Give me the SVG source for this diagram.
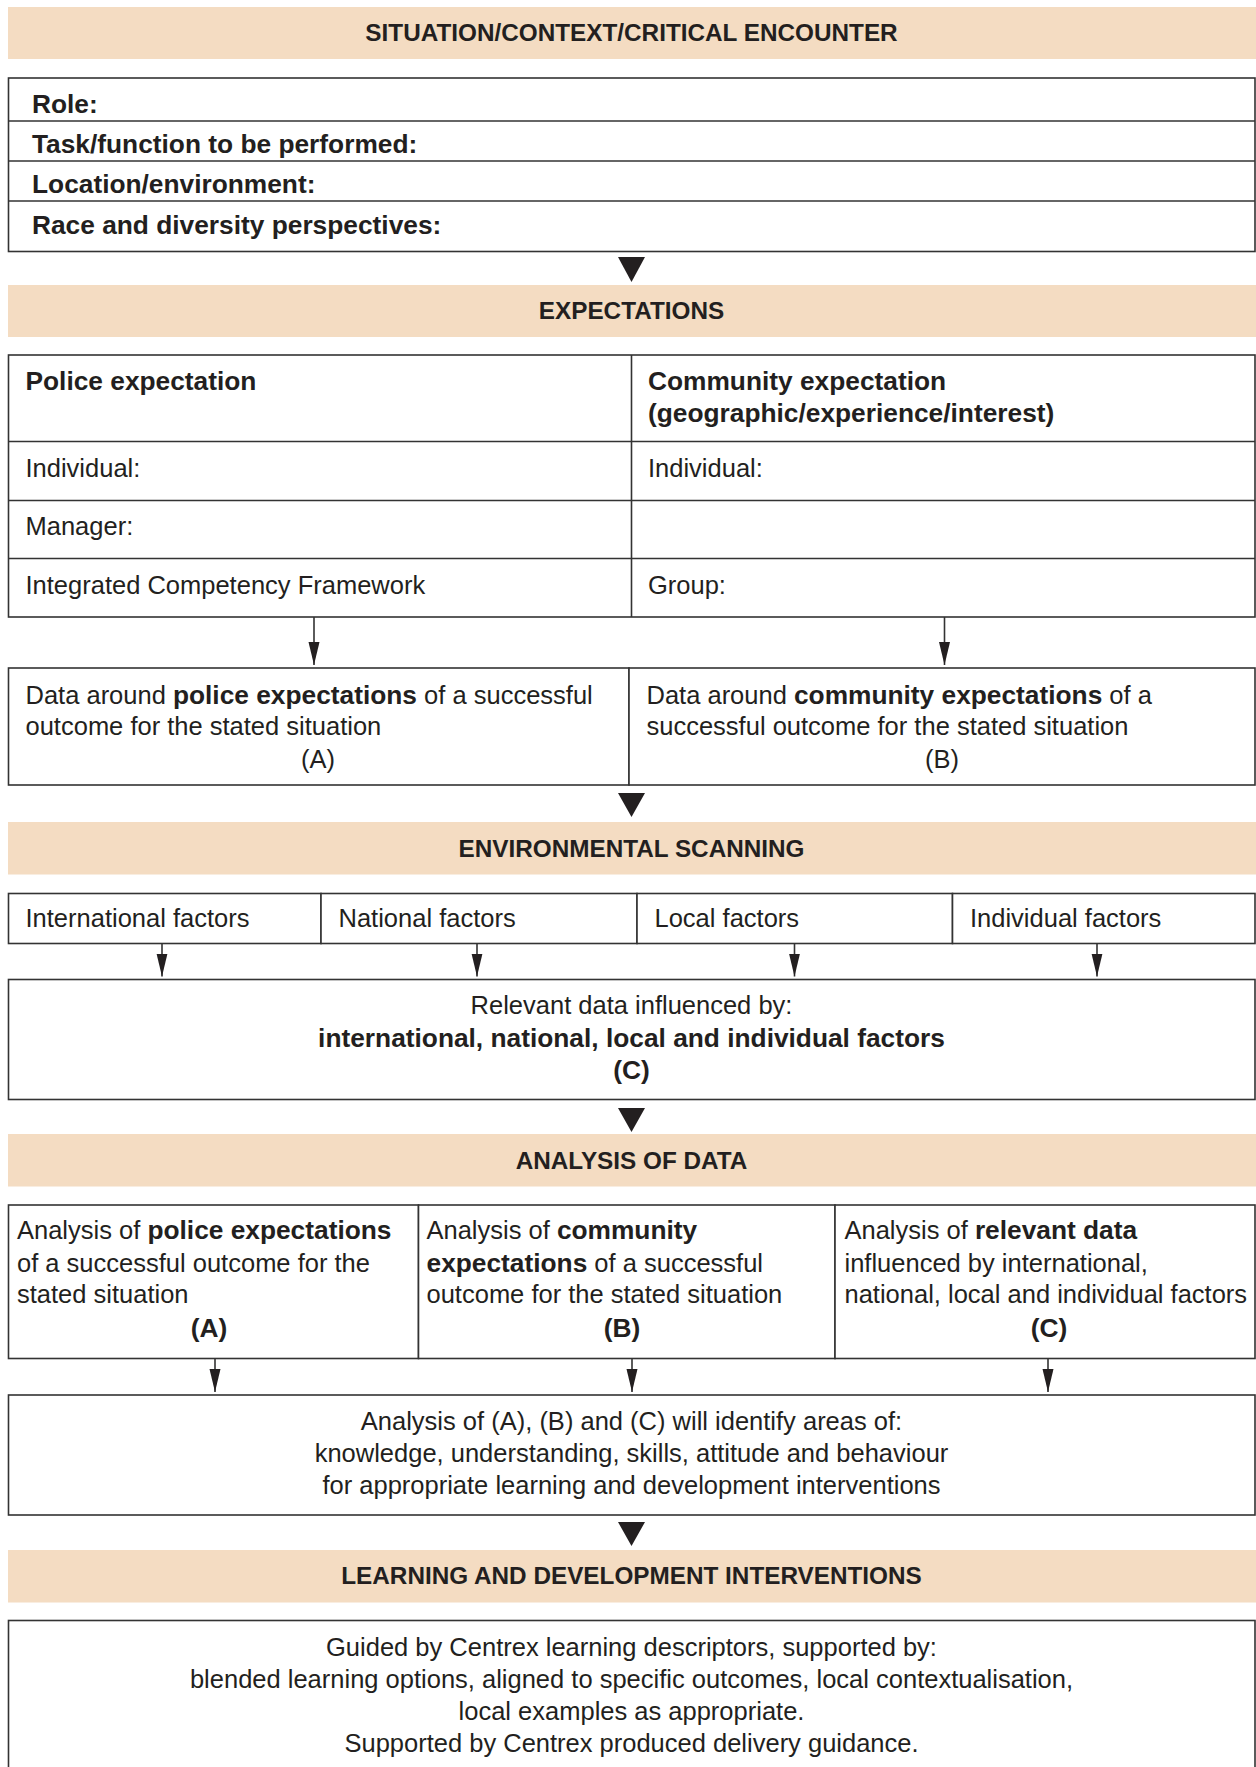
<svg xmlns="http://www.w3.org/2000/svg" width="1256" height="1767" viewBox="0 0 1256 1767">
<style>
.banner{fill:#F4DCC2;}
.box{fill:#fff;stroke:#333;stroke-width:1.6;}
.ln{stroke:#333;stroke-width:1.6;fill:none;}
.t{font-family:"Liberation Sans",Arial,sans-serif;font-size:25.5px;fill:#231F20;}
.b{font-weight:bold;font-size:26.3px;}
.c{text-anchor:middle;}
.h{font-family:"Liberation Sans",Arial,sans-serif;font-size:24.3px;font-weight:bold;fill:#231F20;text-anchor:middle;}
.tri{fill:#231F20;}
.arr{stroke:#333;stroke-width:1.6;fill:none;marker-end:url(#ah);}
</style>
<defs>
<marker id="ah" markerUnits="userSpaceOnUse" viewBox="0 -6 23 12" markerWidth="23" markerHeight="12" refX="23" refY="0" orient="auto">
<path d="M0,-5.5 L23,0 L0,5.5 Z" fill="#231F20"/>
</marker>
</defs>
<rect width="1256" height="1767" fill="#fff"/>

<g id="banner-situation">
<rect class="banner" x="8" y="7" width="1248" height="52"/>
<text class="h" x="631.5" y="41">SITUATION/CONTEXT/CRITICAL ENCOUNTER</text>
</g>

<g id="situation-table">
<rect class="box" x="8.5" y="78" width="1246.5" height="173.5"/>
<line class="ln" x1="8.5" y1="121" x2="1255" y2="121"/>
<line class="ln" x1="8.5" y1="161" x2="1255" y2="161"/>
<line class="ln" x1="8.5" y1="201" x2="1255" y2="201"/>
<text class="t b" x="32" y="112.5">Role:</text>
<text class="t b" x="32" y="153">Task/function to be performed:</text>
<text class="t b" x="32" y="193">Location/environment:</text>
<text class="t b" x="32" y="233.5">Race and diversity perspectives:</text>
</g>

<g id="banner-expectations">
<rect class="banner" x="8" y="285" width="1248" height="52"/>
<text class="h" x="631.5" y="319">EXPECTATIONS</text>
</g>

<g id="expectations-table">
<rect class="box" x="8.5" y="355" width="1246.5" height="262"/>
<line class="ln" x1="8.5" y1="441.5" x2="1255" y2="441.5"/>
<line class="ln" x1="8.5" y1="500.5" x2="1255" y2="500.5"/>
<line class="ln" x1="8.5" y1="558.5" x2="1255" y2="558.5"/>
<line class="ln" x1="631.5" y1="355" x2="631.5" y2="617"/>
<text class="t b" x="25.5" y="390">Police expectation</text>
<text class="t" x="25.5" y="477">Individual:</text>
<text class="t" x="25.5" y="535">Manager:</text>
<text class="t" x="25.5" y="594">Integrated Competency Framework</text>
<text class="t b" x="648" y="390">Community expectation</text>
<text class="t b" x="648" y="422">(geographic/experience/interest)</text>
<text class="t" x="648" y="477">Individual:</text>
<text class="t" x="648" y="594">Group:</text>
</g>

<g id="data-police">
<rect class="box" x="8.5" y="668" width="620.5" height="117"/>
<text class="t" x="25.5" y="703.5">Data around <tspan class="b">police expectations</tspan> of a successful</text>
<text class="t" x="25.5" y="735">outcome for the stated situation</text>
<text class="t c" x="318" y="768">(A)</text>
</g>

<g id="data-community">
<rect class="box" x="629" y="668" width="626" height="117"/>
<text class="t" x="646.5" y="703.5">Data around <tspan class="b">community expectations</tspan> of a</text>
<text class="t" x="646.5" y="735">successful outcome for the stated situation</text>
<text class="t c" x="942" y="768">(B)</text>
</g>

<g id="banner-environmental">
<rect class="banner" x="8" y="822" width="1248" height="52.5"/>
<text class="h" x="631.5" y="856.5">ENVIRONMENTAL SCANNING</text>
</g>

<g id="factor-international">
<rect class="box" x="8.5" y="893.5" width="312.5" height="50"/>
<text class="t" x="25.5" y="927">International factors</text>
</g>
<g id="factor-national">
<rect class="box" x="321" y="893.5" width="316" height="50"/>
<text class="t" x="338.5" y="927">National factors</text>
</g>
<g id="factor-local">
<rect class="box" x="637" y="893.5" width="315.5" height="50"/>
<text class="t" x="654.5" y="927">Local factors</text>
</g>
<g id="factor-individual">
<rect class="box" x="952.5" y="893.5" width="302.5" height="50"/>
<text class="t" x="970" y="927">Individual factors</text>
</g>

<g id="relevant-data">
<rect class="box" x="8.5" y="979.5" width="1246.5" height="120"/>
<text class="t c" x="631.5" y="1013.5">Relevant data influenced by:</text>
<text class="t b c" x="631.5" y="1047">international, national, local and individual factors</text>
<text class="t b c" x="631.5" y="1078.5">(C)</text>
</g>

<g id="banner-analysis">
<rect class="banner" x="8" y="1134" width="1248" height="52.5"/>
<text class="h" x="631.5" y="1168.5">ANALYSIS OF DATA</text>
</g>

<g id="analysis-police">
<rect class="box" x="8.5" y="1205" width="410" height="153.5"/>
<text class="t" x="17" y="1238.5">Analysis of <tspan class="b">police expectations</tspan></text>
<text class="t" x="17" y="1272">of a successful outcome for the</text>
<text class="t" x="17" y="1303">stated situation</text>
<text class="t b c" x="209" y="1337">(A)</text>
</g>

<g id="analysis-community">
<rect class="box" x="418.5" y="1205" width="416.5" height="153.5"/>
<text class="t" x="426.5" y="1238.5">Analysis of <tspan class="b">community</tspan></text>
<text class="t" x="426.5" y="1272"><tspan class="b">expectations</tspan> of a successful</text>
<text class="t" x="426.5" y="1303">outcome for the stated situation</text>
<text class="t b c" x="622" y="1337">(B)</text>
</g>

<g id="analysis-relevant">
<rect class="box" x="835" y="1205" width="420" height="153.5"/>
<text class="t" x="844.5" y="1238.5">Analysis of <tspan class="b">relevant data</tspan></text>
<text class="t" x="844.5" y="1272">influenced by international,</text>
<text class="t" x="844.5" y="1303">national, local and individual factors</text>
<text class="t b c" x="1049" y="1337">(C)</text>
</g>

<g id="analysis-summary">
<rect class="box" x="8.5" y="1395" width="1246.5" height="120"/>
<text class="t c" x="631.5" y="1430">Analysis of (A), (B) and (C) will identify areas of:</text>
<text class="t c" x="631.5" y="1462">knowledge, understanding, skills, attitude and behaviour</text>
<text class="t c" x="631.5" y="1493.5">for appropriate learning and development interventions</text>
</g>

<g id="banner-learning">
<rect class="banner" x="8" y="1550" width="1248" height="52.5"/>
<text class="h" x="631.5" y="1584">LEARNING AND DEVELOPMENT INTERVENTIONS</text>
</g>

<g id="learning-box">
<rect class="box" x="8.5" y="1620.5" width="1246.5" height="170"/>
<text class="t c" x="631.5" y="1656">Guided by Centrex learning descriptors, supported by:</text>
<text class="t c" x="631.5" y="1688">blended learning options, aligned to specific outcomes, local contextualisation,</text>
<text class="t c" x="631.5" y="1720">local examples as appropriate.</text>
<text class="t c" x="631.5" y="1752">Supported by Centrex produced delivery guidance.</text>
</g>

<g id="connectors">
<polygon class="tri" points="618,257 645,257 631.5,282"/>
<polygon class="tri" points="618,793 645,793 631.5,817"/>
<polygon class="tri" points="618,1108 645,1108 631.5,1132"/>
<polygon class="tri" points="618,1522 645,1522 631.5,1546"/>
<line class="arr" x1="314" y1="617" x2="314" y2="665"/>
<line class="arr" x1="944.5" y1="617" x2="944.5" y2="665"/>
<line class="arr" x1="162" y1="943.5" x2="162" y2="976.5"/>
<line class="arr" x1="477" y1="943.5" x2="477" y2="976.5"/>
<line class="arr" x1="794.5" y1="943.5" x2="794.5" y2="976.5"/>
<line class="arr" x1="1097" y1="943.5" x2="1097" y2="976.5"/>
<line class="arr" x1="215" y1="1358.5" x2="215" y2="1392"/>
<line class="arr" x1="632" y1="1358.5" x2="632" y2="1392"/>
<line class="arr" x1="1048" y1="1358.5" x2="1048" y2="1392"/>
</g>
</svg>
